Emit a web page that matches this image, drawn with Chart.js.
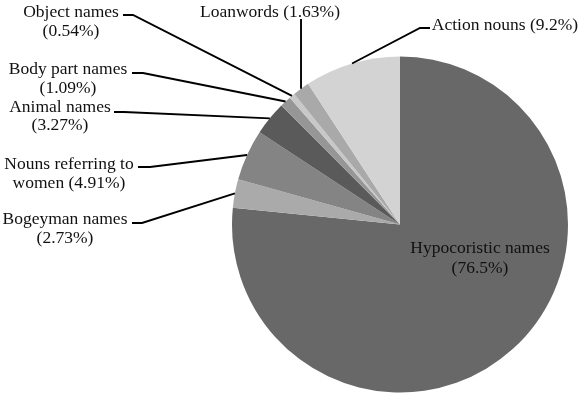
<!DOCTYPE html>
<html>
<head>
<meta charset="utf-8">
<script src="https://cdn.jsdelivr.net/npm/chart.js@4/dist/chart.umd.min.js"></script>
<style>
html,body{margin:0;padding:0;background:#fff;}
canvas{display:block;}
</style>
</head>
<body>
<canvas id="c" width="581" height="394"></canvas>
<script>
// ---- data ----
const categories = ["Hypocoristic names", "Bogeyman names", "Nouns referring to women", "Animal names", "Body part names", "Object names", "Loanwords", "Action nouns"];
const percentages = [76.5, 2.73, 4.91, 3.27, 1.09, 0.54, 1.63, 9.2];
const sliceColors = ["#686868", "#aaaaaa", "#848484", "#5a5a5a", "#969696", "#c8c8c8", "#a9a9a9", "#d3d3d3"];

// ---- label layout (text placement, not data) ----
// firstWords: number of words of the full label on the first line (null = single line)
const labelLayout = [
  {cx: 480, cy: 248, lh: 20, firstWords: 2, inside: true},
  {cx: 65, cy: 219, lh: 19, firstWords: 2, a: [132, 223], b: [142, 223]},
  {cx: 69, cy: 164, lh: 19, firstWords: 3, a: [138, 167], b: [150, 167]},
  {cx: 60, cy: 107, lh: 18, firstWords: 2, a: [114, 112], b: [124, 112]},
  {cx: 68, cy: 69, lh: 19, firstWords: 3, a: [132, 73], b: [143, 73]},
  {cx: 71, cy: 12, lh: 19, firstWords: 2, a: [123, 15], b: [133, 15]},
  {cx: 270, cy: 12, lh: 19, firstWords: null, verticalFromY: 19},
  {cx: 505, cy: 25, lh: 19, firstWords: null, a: [430, 28], b: [420, 28]}
];

const FONT = '17.5px "Liberation Serif", "Times New Roman", serif';

const labelPlugin = {
  id: 'extLabels',
  afterDatasetsDraw(chart) {
    const ctx = chart.ctx;
    const meta = chart.getDatasetMeta(0);
    ctx.save();
    ctx.font = FONT;
    ctx.fillStyle = '#111';
    ctx.textAlign = 'center';
    ctx.textBaseline = 'middle';
    meta.data.forEach((arc, i) => {
      const L = labelLayout[i];
      const full = categories[i] + ' (' + percentages[i] + '%)';
      let lines;
      if (L.firstWords) {
        const w = full.split(' ');
        lines = [w.slice(0, L.firstWords).join(' '), w.slice(L.firstWords).join(' ')];
      } else {
        lines = [full];
      }
      lines.forEach((t, k) => ctx.fillText(t, L.cx, L.cy + k * L.lh));
      if (L.inside) return;
      const p = arc.getProps(['x', 'y', 'startAngle', 'endAngle', 'outerRadius'], true);
      const mid = (p.startAngle + p.endAngle) / 2;
      const ex = p.x + Math.cos(mid) * p.outerRadius;
      const ey = p.y + Math.sin(mid) * p.outerRadius;
      ctx.beginPath();
      ctx.strokeStyle = '#000';
      ctx.lineWidth = 1.9;
      if (L.verticalFromY !== undefined) {
        ctx.moveTo(ex, L.verticalFromY);
        ctx.lineTo(ex, ey);
      } else {
        ctx.moveTo(L.a[0], L.a[1]);
        ctx.lineTo(L.b[0], L.b[1]);
        ctx.lineTo(ex, ey);
      }
      ctx.stroke();
    });
    ctx.restore();
  }
};

new Chart(document.getElementById('c'), {
  type: 'pie',
  data: {
    labels: categories,
    datasets: [{
      data: percentages,
      backgroundColor: sliceColors,
      borderWidth: 0
    }]
  },
  options: {
    responsive: false,
    devicePixelRatio: 1,
    animation: false,
    layout: {padding: {left: 232, right: 13, top: 56, bottom: 1}},
    plugins: {legend: {display: false}, tooltip: {enabled: false}}
  },
  plugins: [labelPlugin]
});
</script>
</body>
</html>
